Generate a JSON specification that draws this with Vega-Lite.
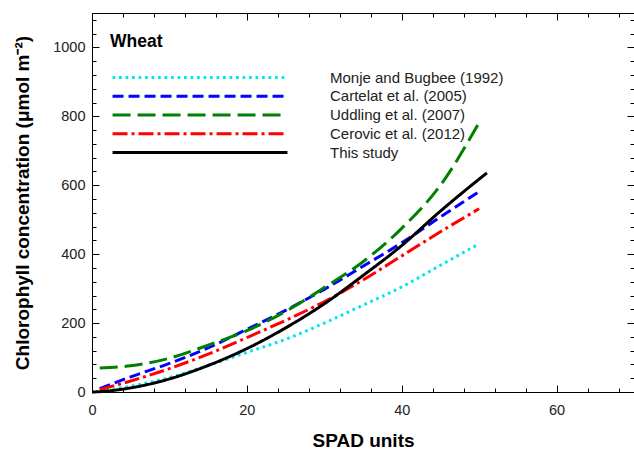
{
  "$schema": "https://vega.github.io/schema/vega-lite/v6.json",
  "width": 542,
  "height": 379,
  "autosize": "none",
  "padding": {"left": 92, "top": 13, "right": 0, "bottom": 59},
  "background": "white",
  "config": {
    "font": "Liberation Sans",
    "view": {"stroke": "black", "strokeWidth": 1},
    "axis": {"grid": false, "domainColor": "black", "domainWidth": 1, "tickColor": "black", "tickWidth": 1, "labelColor": "#222", "labelFontSize": 14.5, "titleColor": "black", "titleFontSize": 19, "titleFontWeight": "bold", "labelFlush": false, "labelOverlap": false}
  },
  "data": {
    "values": [
      {"source": "Monje and Bugbee (1992)", "spad": 1, "chl": 2},
      {"source": "Monje and Bugbee (1992)", "spad": 5, "chl": 17},
      {"source": "Monje and Bugbee (1992)", "spad": 10, "chl": 42},
      {"source": "Monje and Bugbee (1992)", "spad": 15, "chl": 77},
      {"source": "Monje and Bugbee (1992)", "spad": 20, "chl": 115},
      {"source": "Monje and Bugbee (1992)", "spad": 25, "chl": 153},
      {"source": "Monje and Bugbee (1992)", "spad": 30, "chl": 200},
      {"source": "Monje and Bugbee (1992)", "spad": 35, "chl": 252},
      {"source": "Monje and Bugbee (1992)", "spad": 40, "chl": 305},
      {"source": "Monje and Bugbee (1992)", "spad": 45, "chl": 368},
      {"source": "Monje and Bugbee (1992)", "spad": 50, "chl": 430},
      {"source": "Cartelat et al. (2005)", "spad": 1, "chl": 10},
      {"source": "Cartelat et al. (2005)", "spad": 5, "chl": 44},
      {"source": "Cartelat et al. (2005)", "spad": 10, "chl": 83},
      {"source": "Cartelat et al. (2005)", "spad": 15, "chl": 128},
      {"source": "Cartelat et al. (2005)", "spad": 20, "chl": 182},
      {"source": "Cartelat et al. (2005)", "spad": 25, "chl": 237},
      {"source": "Cartelat et al. (2005)", "spad": 30, "chl": 298},
      {"source": "Cartelat et al. (2005)", "spad": 35, "chl": 365},
      {"source": "Cartelat et al. (2005)", "spad": 40, "chl": 433},
      {"source": "Cartelat et al. (2005)", "spad": 45, "chl": 508},
      {"source": "Cartelat et al. (2005)", "spad": 50, "chl": 582},
      {"source": "Uddling et al. (2007)", "spad": 1, "chl": 70},
      {"source": "Uddling et al. (2007)", "spad": 5, "chl": 76},
      {"source": "Uddling et al. (2007)", "spad": 10, "chl": 98},
      {"source": "Uddling et al. (2007)", "spad": 15, "chl": 136},
      {"source": "Uddling et al. (2007)", "spad": 20, "chl": 178},
      {"source": "Uddling et al. (2007)", "spad": 25, "chl": 234},
      {"source": "Uddling et al. (2007)", "spad": 30, "chl": 303},
      {"source": "Uddling et al. (2007)", "spad": 35, "chl": 378},
      {"source": "Uddling et al. (2007)", "spad": 40, "chl": 475},
      {"source": "Uddling et al. (2007)", "spad": 45, "chl": 600},
      {"source": "Uddling et al. (2007)", "spad": 50, "chl": 782},
      {"source": "Cerovic et al. (2012)", "spad": 1, "chl": 7},
      {"source": "Cerovic et al. (2012)", "spad": 5, "chl": 32},
      {"source": "Cerovic et al. (2012)", "spad": 10, "chl": 68},
      {"source": "Cerovic et al. (2012)", "spad": 15, "chl": 110},
      {"source": "Cerovic et al. (2012)", "spad": 20, "chl": 158},
      {"source": "Cerovic et al. (2012)", "spad": 25, "chl": 208},
      {"source": "Cerovic et al. (2012)", "spad": 30, "chl": 262},
      {"source": "Cerovic et al. (2012)", "spad": 35, "chl": 325},
      {"source": "Cerovic et al. (2012)", "spad": 40, "chl": 395},
      {"source": "Cerovic et al. (2012)", "spad": 45, "chl": 465},
      {"source": "Cerovic et al. (2012)", "spad": 50, "chl": 532},
      {"source": "This study", "spad": 0, "chl": 0},
      {"source": "This study", "spad": 1, "chl": 1},
      {"source": "This study", "spad": 5, "chl": 12},
      {"source": "This study", "spad": 10, "chl": 38},
      {"source": "This study", "spad": 15, "chl": 77},
      {"source": "This study", "spad": 20, "chl": 126},
      {"source": "This study", "spad": 25, "chl": 186},
      {"source": "This study", "spad": 30, "chl": 256},
      {"source": "This study", "spad": 35, "chl": 338},
      {"source": "This study", "spad": 40, "chl": 425},
      {"source": "This study", "spad": 45, "chl": 525},
      {"source": "This study", "spad": 51, "chl": 636}
    ]
  },
  "layer": [
    {
      "mark": {"type": "line", "strokeWidth": 3, "interpolate": "monotone"},
      "encoding": {
        "x": {
          "field": "spad", "type": "quantitative",
          "scale": {"domain": [0, 70], "nice": false, "zero": false},
          "axis": {
            "orient": "bottom", "title": "SPAD units", "titlePadding": 12,
            "values": [0, 4, 8, 12, 16, 20, 24, 28, 32, 36, 40, 44, 48, 52, 56, 60, 64, 68],
            "labelExpr": "datum.value % 20 === 0 ? '' + datum.value : ''",
            "tickSize": {"condition": {"test": "datum.value % 20 === 0", "value": -7}, "value": -4},
            "labelPadding": 18
          }
        },
        "y": {
          "field": "chl", "type": "quantitative",
          "scale": {"domain": [0, 1100], "nice": false},
          "axis": {
            "orient": "left", "title": "Chlorophyll concentration (μmol m⁻²)", "titlePadding": 20,
            "values": [0, 40, 80, 120, 160, 200, 240, 280, 320, 360, 400, 440, 480, 520, 560, 600, 640, 680, 720, 760, 800, 840, 880, 920, 960, 1000, 1040, 1080],
            "labelExpr": "datum.value % 200 === 0 ? '' + datum.value : ''",
            "tickSize": {"condition": {"test": "datum.value % 200 === 0", "value": -7}, "value": -4},
            "labelPadding": 14
          }
        },
        "color": {
          "field": "source", "type": "nominal",
          "scale": {
            "domain": ["Monje and Bugbee (1992)", "Cartelat et al. (2005)", "Uddling et al. (2007)", "Cerovic et al. (2012)", "This study"],
            "range": ["#00E5EE", "#0000FF", "#008000", "#FF0000", "#000000"]
          },
          "legend": {
            "orient": "none", "legendX": 18, "legendY": 20, "title": "Wheat",
            "titleFontSize": 17.5, "titleFontWeight": "bold", "titleColor": "black", "titlePadding": 20,
            "symbolType": "stroke", "symbolSize": 30600, "symbolStrokeWidth": 3, "symbolOffset": 1, "clipHeight": 14,
            "labelFontSize": 15, "labelLimit": 400, "labelColor": "#222", "labelOffset": 41, "rowPadding": 3.75, "padding": 0
          }
        },
        "strokeDash": {
          "field": "source", "type": "nominal",
          "scale": {
            "domain": ["Monje and Bugbee (1992)", "Cartelat et al. (2005)", "Uddling et al. (2007)", "Cerovic et al. (2012)", "This study"],
            "range": [[2.7, 3.8], [11, 5], [18, 7], [15, 4, 3, 4], [1, 0]]
          },
          "legend": {
            "orient": "none", "legendX": 18, "legendY": 20, "title": "Wheat",
            "titleFontSize": 17.5, "titleFontWeight": "bold", "titleColor": "black", "titlePadding": 20,
            "symbolType": "stroke", "symbolSize": 30600, "symbolStrokeWidth": 3, "symbolOffset": 1, "clipHeight": 14,
            "labelFontSize": 15, "labelLimit": 400, "labelColor": "#222", "labelOffset": 41, "rowPadding": 3.75, "padding": 0
          }
        }
      }
    },
    {
      "mark": {"type": "line", "opacity": 0},
      "encoding": {
        "x": {
          "field": "spad", "type": "quantitative",
          "scale": {"domain": [0, 70], "nice": false, "zero": false},
          "axis": {
            "orient": "top", "title": null, "labels": false,
            "values": [0, 4, 8, 12, 16, 20, 24, 28, 32, 36, 40, 44, 48, 52, 56, 60, 64, 68],
            "tickSize": {"condition": {"test": "datum.value % 20 === 0", "value": -7}, "value": -4}
          }
        },
        "y": {
          "field": "chl", "type": "quantitative",
          "scale": {"domain": [0, 1100], "nice": false},
          "axis": {
            "orient": "right", "title": null, "labels": false,
            "values": [0, 40, 80, 120, 160, 200, 240, 280, 320, 360, 400, 440, 480, 520, 560, 600, 640, 680, 720, 760, 800, 840, 880, 920, 960, 1000, 1040, 1080],
            "tickSize": {"condition": {"test": "datum.value % 200 === 0", "value": -7}, "value": -4}
          }
        },
        "detail": {"field": "source", "type": "nominal"}
      }
    }
  ],
  "resolve": {"axis": {"x": "independent", "y": "independent"}}
}
